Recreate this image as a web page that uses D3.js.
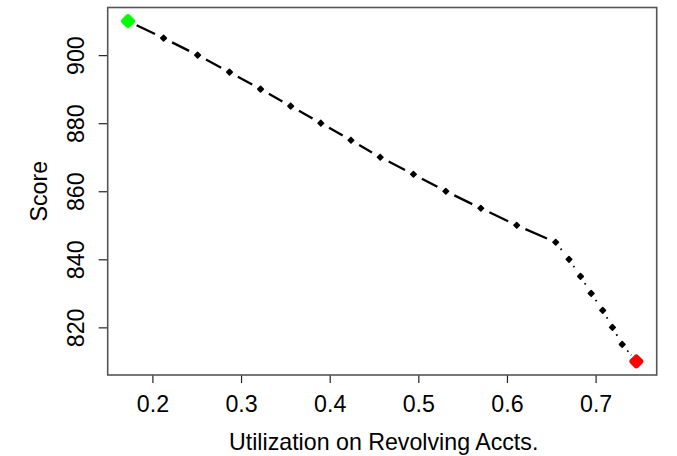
<!DOCTYPE html>
<html>
<head>
<meta charset="utf-8">
<script src="https://cdn.jsdelivr.net/npm/d3@7"></script>
<style>
  html, body { margin: 0; padding: 0; background: #fff; }
  svg { display: block; font-family: "Liberation Sans", Arial, sans-serif; }
</style>
</head>
<body>
<svg id="chart" width="677" height="456"></svg>
<script>
// Data
const utilization = [0.1725, 0.2126, 0.251, 0.287, 0.322, 0.356, 0.390, 0.424, 0.457, 0.4945,
                     0.531, 0.5705, 0.611, 0.655, 0.670, 0.683, 0.695, 0.708, 0.719, 0.730, 0.746];
const score = [910, 905, 900, 895, 890, 885, 880, 875, 870, 865,
               860, 855, 850, 845, 840, 835, 830, 825, 820, 815, 810];
// segment style: index of first point where dotted style begins
const dottedFrom = 13;
const xTicks = [0.2, 0.3, 0.4, 0.5, 0.6, 0.7];
const yTicks = [820, 840, 860, 880, 900];
const xLabel = "Utilization on Revolving Accts.";
const yLabel = "Score";

const svg = d3.select("#chart");
const L = 107.7, R = 656.7, T = 7.5, B = 375;

const xr = d3.extent(utilization), yr = d3.extent(score);
const xpad = (xr[1] - xr[0]) * 0.04, ypad = (yr[1] - yr[0]) * 0.04;
const x = d3.scaleLinear().domain([xr[0] - xpad, xr[1] + xpad]).range([L, R]);
const y = d3.scaleLinear().domain([yr[0] - ypad, yr[1] + ypad]).range([B, T]);

const fontSize = 23.2;

// X axis
const gx = svg.append("g").attr("transform", `translate(0,${B})`)
  .call(d3.axisBottom(x).tickValues(xTicks).tickFormat(d3.format(".1f")).tickSize(8).tickPadding(13).tickSizeOuter(0));
gx.select(".domain").remove();
gx.selectAll("line").attr("stroke", "#222").attr("stroke-width", 1.2);
gx.selectAll("text").attr("font-size", fontSize).attr("fill", "#000")
  .attr("font-family", "Liberation Sans, Arial, sans-serif");

// Y axis
const gy = svg.append("g").attr("transform", `translate(${L},0)`)
  .call(d3.axisLeft(y).tickValues(yTicks).tickFormat(d3.format("d")).tickSize(9).tickSizeOuter(0));
gy.select(".domain").remove();
gy.selectAll("line").attr("stroke", "#222").attr("stroke-width", 1.2);
gy.selectAll("text")
  .attr("x", null).attr("dy", null).attr("y", null)
  .attr("text-anchor", "middle")
  .attr("transform", "translate(-23.5,0) rotate(-90)")
  .attr("font-size", fontSize).attr("fill", "#000")
  .attr("font-family", "Liberation Sans, Arial, sans-serif");

// Box
svg.append("rect").attr("x", L).attr("y", T).attr("width", R - L).attr("height", B - T)
  .attr("fill", "none").attr("stroke", "#555").attr("stroke-width", 1.6);

// Axis titles
svg.append("text").attr("x", (L + R) / 2 + 1.5).attr("y", 449.5).attr("text-anchor", "middle")
  .attr("font-size", fontSize).attr("fill", "#000").text(xLabel);
svg.append("text").attr("transform", `translate(46.5,${(T + B) / 2}) rotate(-90)`)
  .attr("text-anchor", "middle").attr("font-size", fontSize).attr("fill", "#000").text(yLabel);

// Line segments (type "b": gaps around points)
const pts = utilization.map((u, i) => ({ u, s: score[i], i }));
const gap = 9.5;
const segs = svg.append("g");
for (let i = 0; i < pts.length - 1; i++) {
  const x0 = x(pts[i].u), y0 = y(pts[i].s), x1 = x(pts[i + 1].u), y1 = y(pts[i + 1].s);
  const len = Math.hypot(x1 - x0, y1 - y0);
  const dotted = i >= dottedFrom;
  const g = dotted ? 8 : gap;
  if (len <= 2 * g) continue;
  const ux = (x1 - x0) / len, uy = (y1 - y0) / len;
  segs.append("line")
    .attr("x1", x0 + ux * g).attr("y1", y0 + uy * g)
    .attr("x2", x1 - ux * g).attr("y2", y1 - uy * g)
    .attr("stroke", "#000")
    .attr("stroke-width", dotted ? 1.8 : 2.3)
    .attr("stroke-dasharray", dotted ? "1.6,4" : null);
}

// Points: rounded diamonds
function diamond(sel, side, r, color) {
  sel.append("rect")
    .attr("x", -side / 2).attr("y", -side / 2).attr("width", side).attr("height", side)
    .attr("rx", r).attr("ry", r).attr("fill", color);
}
const last = pts.length - 1;
svg.append("g").selectAll("g").data(pts.slice(1, last)).join("g")
  .attr("transform", d => `translate(${x(d.u)},${y(d.s)}) rotate(45)`)
  .each(function () { diamond(d3.select(this), 5.5, 0.8, "#000"); });

svg.append("g").attr("transform", `translate(${x(pts[0].u)},${y(pts[0].s)}) rotate(45)`)
  .call(g => diamond(g, 11.5, 3, "#00ff00"));
svg.append("g").attr("transform", `translate(${x(pts[last].u)},${y(pts[last].s)}) rotate(45)`)
  .call(g => diamond(g, 11.5, 3, "#ff0000"));
</script>
</body>
</html>
